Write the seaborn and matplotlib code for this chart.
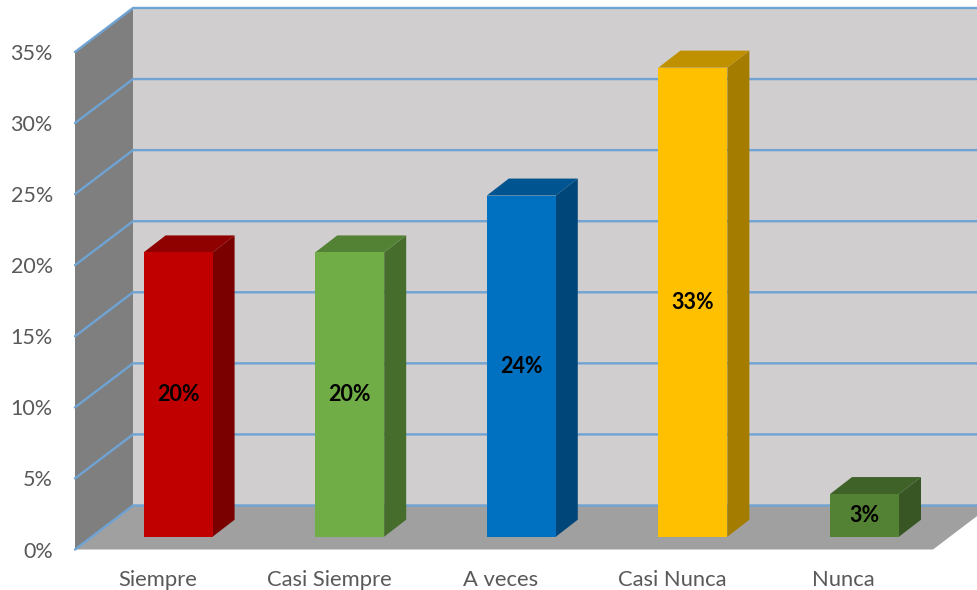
import matplotlib
matplotlib.use("Agg")
import matplotlib.pyplot as plt
from matplotlib.patches import Polygon
from matplotlib.ticker import PercentFormatter
from matplotlib.transforms import Affine2D
import pandas as pd
import seaborn as sns

categories = ["Siempre", "Casi Siempre", "A veces", "Casi Nunca", "Nunca"]
values = [20, 20, 24, 33, 3]
y_ticks = [0, 5, 10, 15, 20, 25, 30, 35]

front_colors = ["#C00000", "#70AD47", "#0070C0", "#FFC000", "#548235"]
side_colors = ["#7A0000", "#466D2B", "#004678", "#A47C00", "#375623"]
top_colors = ["#8F0000", "#548235", "#00548F", "#BF9000", "#3F6229"]

sns.set_theme(style="white")
plt.rcParams["font.family"] = ["Lato", "DejaVu Sans"]

W, H = 977, 590
fig = plt.figure(figsize=(W / 100, H / 100), dpi=100, facecolor="white")
L, R, T, B = 75, 933, 52, 549.5
ax = fig.add_axes([L / W, (H - B) / H, (R - L) / W, (B - T) / H])
ax.patch.set_alpha(0)

df = pd.DataFrame({"categoria": categories, "valor": values})
sns.barplot(data=df, x="categoria", y="valor", hue="categoria", order=categories,
            hue_order=categories, palette=front_colors, legend=False, width=0.402,
            saturation=1, ax=ax, zorder=5, linewidth=0)
ax.set_xlim(-0.5, len(categories) - 0.5)
ax.set_ylim(0, 35)
x0, x1 = ax.get_xlim()

px_x = (R - L) / (x1 - x0)
px_y = (B - T) / 35
wall_dx, wall_dy = 58 / px_x, 44 / px_y
bar_dx, bar_dy = 17.3 / px_x, 12.8 / px_y
depth_dx, depth_dy = 22 / px_x, 17 / px_y
x_far = x0 + (W - L) / px_x


def poly(points, color, z):
    ax.add_patch(Polygon(points, closed=True, facecolor=color, edgecolor="none",
                         clip_on=False, zorder=z))


# walls and floor
poly([(x0 + wall_dx, wall_dy), (x_far, wall_dy), (x_far, 35 + wall_dy), (x0 + wall_dx, 35 + wall_dy)], "#D0CECE", 1)
poly([(x0, 0), (x0 + wall_dx, wall_dy), (x0 + wall_dx, 35 + wall_dy), (x0, 35)], "#7F7F7F", 2)
poly([(x0, 0), (x1, 0), (x1 + wall_dx, wall_dy), (x_far, wall_dy), (x0 + wall_dx, wall_dy)], "#A0A0A0", 2)

# gridlines on both walls
for t in y_ticks:
    ax.plot([x0, x0 + wall_dx, x_far], [t, t + wall_dy, t + wall_dy], color="#6FA3D3",
            lw=1.7, clip_on=False, zorder=3, solid_joinstyle="miter")

# extruded bars
for patch, v, side, top, cat in zip(ax.patches, values, side_colors, top_colors, categories):
    patch.set_x(patch.get_x() + bar_dx)
    patch.set_y(bar_dy)
    xa, xb = patch.get_x(), patch.get_x() + patch.get_width()
    ya, yb = bar_dy, bar_dy + v
    poly([(xb, ya), (xb + depth_dx, ya + depth_dy), (xb + depth_dx, yb + depth_dy), (xb, yb)], side, 4)
    poly([(xa, yb), (xb, yb), (xb + depth_dx, yb + depth_dy), (xa + depth_dx, yb + depth_dy)], top, 4)
    ax.text((xa + xb) / 2, (ya + yb) / 2, f"{v}%", ha="center", va="center",
            fontsize=15.5, fontweight="bold", color="black", zorder=6)

sns.despine(ax=ax, left=True, bottom=True, top=True, right=True)
ax.set_xlabel("")
ax.set_ylabel("")
ax.set_yticks(y_ticks)
ax.yaxis.set_major_formatter(PercentFormatter(decimals=0))
ax.tick_params(axis="y", length=0, pad=16, labelsize=15.5, labelcolor="#595959")
ax.set_xticks(range(len(categories)))
ax.set_xticklabels(categories)
ax.tick_params(axis="x", length=0, pad=14.5, labelsize=15.8, labelcolor="#595959")
for lab in ax.get_xticklabels():
    lab.set_transform(lab.get_transform() + Affine2D().translate(-3.5, 0))
ax.grid(False)

fig.savefig("out.png", dpi=100, facecolor="white")
